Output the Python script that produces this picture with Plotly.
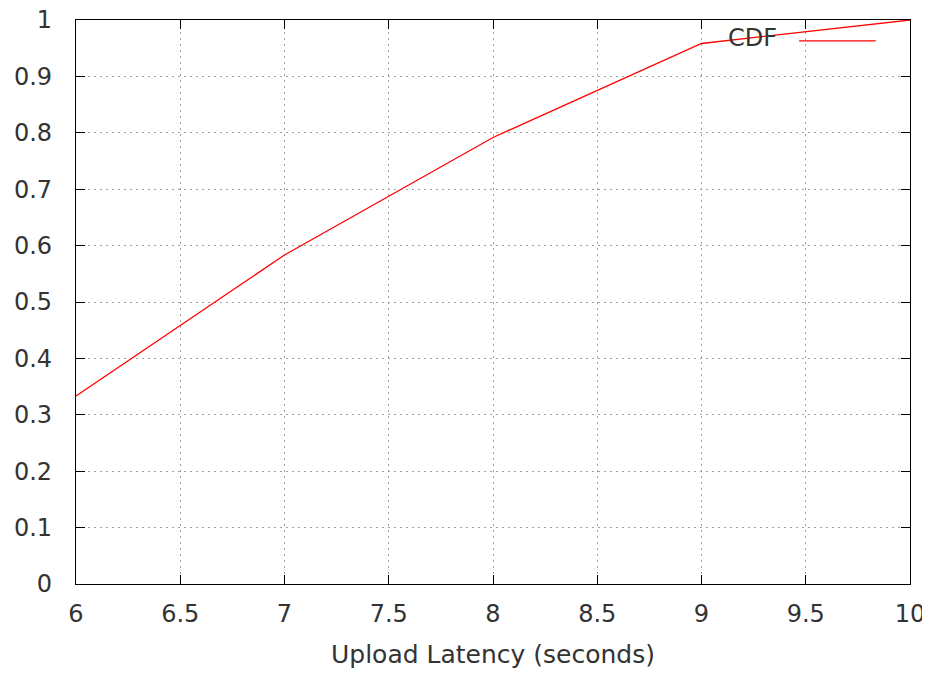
import plotly.graph_objects as go

# upload latency CDF (24 samples)
latency_s = [6, 7, 8, 9, 10]
cdf = [8 / 24, 14 / 24, 19 / 24, 23 / 24, 1.0]

x_ticks = [6, 6.5, 7, 7.5, 8, 8.5, 9, 9.5, 10]
y_ticks = [0, 0.1, 0.2, 0.3, 0.4, 0.5, 0.6, 0.7, 0.8, 0.9, 1]

FONT = "DejaVu Sans"
TEXT_COLOR = "#333333"

fig = go.Figure()
fig.add_trace(go.Scatter(
    x=latency_s, y=cdf, mode="lines", name="CDF",
    line=dict(color="#ff0000", width=1.3), showlegend=False,
))

# gnuplot-style key: text on the left, line sample on the right
fig.add_annotation(
    x=0.843, y=0.968, xref="paper", yref="paper", text="CDF",
    showarrow=False, xanchor="right", yanchor="middle",
    font=dict(family=FONT, size=24, color=TEXT_COLOR),
)
fig.add_shape(
    type="line", xref="paper", yref="paper",
    x0=0.867, x1=0.959, y0=0.963, y1=0.963,
    line=dict(color="#ff0000", width=1.3),
)

axis_common = dict(
    showline=True, linecolor="black", linewidth=1.2, mirror="allticks",
    ticks="inside", ticklen=9, tickcolor="black", tickwidth=1.2,
    showgrid=True, gridcolor="#a0a0a0", gridwidth=1, griddash="2px,4px",
    zeroline=False, automargin=False, layer="above traces",
    ticklabeloverflow="allow",
    tickfont=dict(family=FONT, size=24, color=TEXT_COLOR),
)

# the page body adds an 8px offset, so the figure is 8px smaller
fig.update_layout(
    width=922, height=669,
    margin=dict(l=68, r=20, t=12, b=93),
    paper_bgcolor="white", plot_bgcolor="white",
    xaxis=dict(
        range=[6, 10], tickvals=x_ticks, ticktext=[f"{v:g}" for v in x_ticks],
        title=dict(text="Upload Latency (seconds)", standoff=18,
                   font=dict(family=FONT, size=25, color=TEXT_COLOR)),
        ticklabelstandoff=8,
        **axis_common,
    ),
    yaxis=dict(
        range=[0, 1], tickvals=y_ticks, ticktext=[f"{v:g}" for v in y_ticks],
        ticklabelstandoff=18,
        **axis_common,
    ),
)

fig.write_html("out.html")
